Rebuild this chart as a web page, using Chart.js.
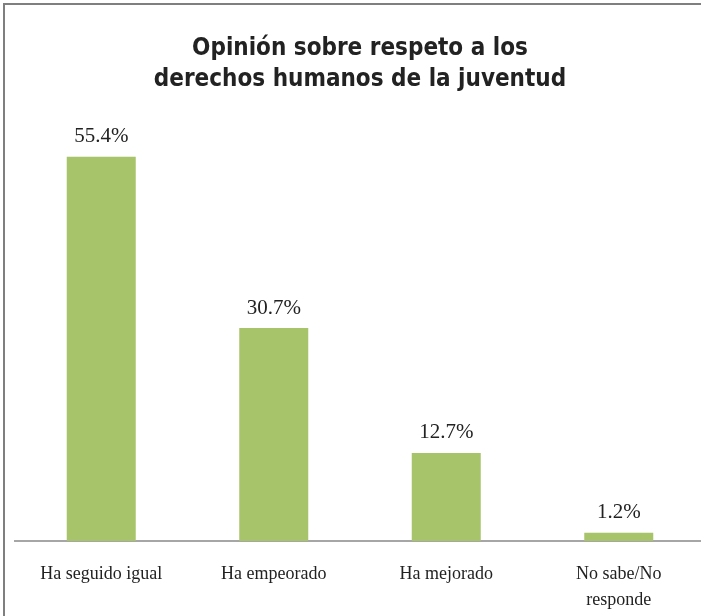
<!DOCTYPE html>
<html>
<head>
<meta charset="utf-8">
<script src="https://cdn.jsdelivr.net/npm/chart.js@4.4.1/dist/chart.umd.min.js"></script>
<style>
  body { margin: 0; background: #fff; overflow: hidden; }
  .frame {
    position: absolute; left: 3px; top: 3px; width: 720px; height: 620px;
    border-left: 2px solid #7f7f7f; border-top: 2px solid #7f7f7f;
  }
  .wrap { position: absolute; left: 0; top: 0; width: 718px; height: 616px; }
</style>
</head>
<body>
<div class="frame"></div>
<div class="wrap"><canvas id="chart"></canvas></div>
<script>
// data
const categories = ['Ha seguido igual', 'Ha empeorado', 'Ha mejorado', ['No sabe/No', 'responde']];
const values = [55.4, 30.7, 12.7, 1.2];
const titleLines = ['Opinión sobre respeto a los', 'derechos humanos de la juventud'];

const serif = "'Liberation Serif', 'DejaVu Serif', serif";

// value labels above the bars
const barLabels = {
    id: 'barLabels',
    afterDatasetsDraw(chart) {
        const ctx = chart.ctx;
        const meta = chart.getDatasetMeta(0);
        ctx.save();
        ctx.font = '21px ' + serif;
        ctx.fillStyle = '#222';
        ctx.textAlign = 'center';
        ctx.textBaseline = 'middle';
        meta.data.forEach((bar, i) => {
            ctx.fillText(values[i].toFixed(1) + '%', bar.x, bar.y - 20);
        });
        ctx.restore();
    }
};

new Chart(document.getElementById('chart'), {
    type: 'bar',
    data: {
        labels: categories,
        datasets: [{
            data: values,
            backgroundColor: '#a8c46b',
            categoryPercentage: 1,
            barPercentage: 0.4
        }]
    },
    options: {
        responsive: true,
        maintainAspectRatio: false,
        animation: false,
        layout: { padding: { left: 15, right: 13, top: 0, bottom: 0 } },
        plugins: {
            legend: { display: false },
            tooltip: { enabled: false },
            title: {
                display: true,
                text: titleLines,
                color: '#222',
                font: { family: "'DejaVu Sans Condensed', 'Liberation Sans', sans-serif", size: 24, weight: 'bold', lineHeight: 1.29 },
                padding: { top: 33, bottom: 30 }
            }
        },
        scales: {
            x: {
                grid: { display: false, drawTicks: false },
                border: { display: true, color: '#a6a6a6', width: 2 },
                ticks: { color: '#222', font: { family: serif, size: 18, lineHeight: 1.45 }, padding: 20, maxRotation: 0 },
                afterFit(scale) { scale.height = 75; }
            },
            y: {
                display: false,
                min: 0,
                max: 60
            }
        }
    },
    plugins: [barLabels]
});
</script>
</body>
</html>
